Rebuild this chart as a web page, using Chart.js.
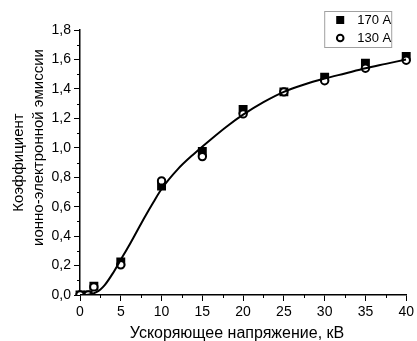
<!DOCTYPE html>
<html>
<head>
<meta charset="utf-8">
<script src="https://cdn.jsdelivr.net/npm/chart.js@4"></script>
<style>
  html, body { margin: 0; padding: 0; background: #fff; }
  #wrap { width: 417px; height: 341px; position: relative; }
</style>
</head>
<body>
<div id="wrap"><canvas id="chart"></canvas></div>
<script>
// measured points, kV -> coefficient
const voltage = [0, 1, 1.7, 5, 10, 15, 20, 25, 30, 35, 40];
const coef170 = [0, 0, 0.06, 0.225, 0.74, 0.975, 1.26, 1.38, 1.48, 1.575, 1.62];
const coef130 = [0, 0, 0.055, 0.205, 0.775, 0.94, 1.23, 1.38, 1.455, 1.54, 1.595];

// fitted curve
const fitX = [0, 1, 1.5, 2, 2.5, 3, 4, 5, 6, 7, 8, 9, 10, 12, 14, 16, 18, 20, 22.5, 25, 27.5, 30, 32.5, 35, 37.5, 40];
const fitY = [0, 0.002, 0.008, 0.02, 0.038, 0.065, 0.145, 0.24, 0.335, 0.435, 0.535, 0.63, 0.72, 0.855, 0.96, 1.055, 1.145, 1.225, 1.31, 1.38, 1.43, 1.47, 1.505, 1.54, 1.57, 1.60];

const seriesNames = ['170 A', '130 A'];
const yTitle = ['Коэффициент', 'ионно-электронной эмиссии'];
const xTitle = 'Ускоряющее напряжение, кВ';

const FONT = 'Liberation Sans, Arial, sans-serif';
const pts = (xs, ys) => xs.map((x, i) => ({ x: x, y: ys[i] }));

// minor ticks halfway between the major ones
const minorTicks = {
  id: 'minorTicks',
  afterDraw(chart) {
    const { ctx, scales: { x, y } } = chart;
    ctx.save();
    ctx.strokeStyle = '#000';
    ctx.lineWidth = 1;
    ctx.beginPath();
    for (let v = 2.5; v < 40; v += 5) {
      const px = Math.round(x.getPixelForValue(v)) + 0.5;
      ctx.moveTo(px, y.bottom);
      ctx.lineTo(px, y.bottom + 3);
    }
    for (let v = 0.1; v < 1.8; v += 0.2) {
      const py = Math.round(y.getPixelForValue(v)) + 0.5;
      ctx.moveTo(x.left, py);
      ctx.lineTo(x.left - 3, py);
    }
    ctx.stroke();
    ctx.restore();
  }
};

// axis titles: two rotated lines on the left, one line under the x axis
const axisTitles = {
  id: 'axisTitles',
  afterDraw(chart) {
    const { ctx, chartArea } = chart;
    const mid = (chartArea.top + chartArea.bottom) / 2;
    ctx.save();
    ctx.fillStyle = '#000';
    ctx.textAlign = 'center';
    ctx.font = '16px ' + FONT;
    ctx.fillText(xTitle, 237, chart.height - 3);
    ctx.font = '15px ' + FONT;
    ctx.textBaseline = 'middle';
    ctx.translate(19, mid);
    ctx.rotate(-Math.PI / 2);
    ctx.fillText(yTitle[0], 0, 0);
    ctx.fillText(yTitle[1], 15, 20);
    ctx.restore();
  }
};

// boxed legend in the upper right corner of the plot
const cornerLegend = {
  id: 'cornerLegend',
  afterDraw(chart) {
    const { ctx, chartArea } = chart;
    const bx = chartArea.right - 82, by = chartArea.top - 19;
    ctx.save();
    ctx.strokeStyle = '#a0a0a0';
    ctx.lineWidth = 1;
    ctx.strokeRect(bx + 0.5, by + 0.5, 67, 36);
    ctx.fillStyle = '#000';
    ctx.strokeStyle = '#000';
    ctx.fillRect(bx + 12, by + 5, 8, 8);
    ctx.lineWidth = 2;
    ctx.beginPath();
    ctx.arc(bx + 16, by + 27, 3.3, 0, Math.PI * 2);
    ctx.stroke();
    ctx.font = '13px ' + FONT;
    ctx.textBaseline = 'middle';
    ctx.fillText(seriesNames[0], bx + 33, by + 9);
    ctx.fillText(seriesNames[1], bx + 33, by + 27);
    ctx.restore();
  }
};

new Chart(document.getElementById('chart'), {
  type: 'scatter',
  data: {
    datasets: [{
      label: 'fit',
      data: pts(fitX, fitY),
      showLine: true,
      borderColor: '#000',
      borderWidth: 2,
      pointRadius: 0,
      cubicInterpolationMode: 'monotone',
      order: 0
    }, {
      label: seriesNames[1],
      data: pts(voltage, coef130),
      pointStyle: 'circle',
      pointRadius: 3.7,
      pointBorderWidth: 2,
      pointBorderColor: '#000',
      pointBackgroundColor: '#fff',
      clip: { left: 8, top: 8, right: 8, bottom: 0 },
      order: 1
    }, {
      label: seriesNames[0],
      data: pts(voltage, coef170),
      pointStyle: 'rect',
      pointRadius: 6.3,
      pointBorderWidth: 0,
      pointBackgroundColor: '#000',
      clip: { left: 8, top: 8, right: 8, bottom: 0 },
      order: 2
    }]
  },
  options: {
    responsive: true,
    maintainAspectRatio: false,
    animation: false,
    layout: { padding: { left: 0, right: 9, top: 30, bottom: 0 } },
    plugins: {
      legend: { display: false },
      tooltip: { enabled: false }
    },
    scales: {
      x: {
        min: 0,
        max: 40,
        afterFit: (s) => { s.height = 46; },
        border: { color: '#000', width: 1.5 },
        grid: { drawOnChartArea: false, color: '#000', tickLength: 6, lineWidth: 1 },
        ticks: { stepSize: 5, color: '#000', padding: 3, maxRotation: 0, font: { family: FONT, size: 14 } }
      },
      y: {
        min: 0,
        max: 1.8,
        afterFit: (s) => { s.width = 80; },
        border: { color: '#000', width: 1.5 },
        grid: { drawOnChartArea: false, color: '#000', tickLength: 6, lineWidth: 1 },
        ticks: {
          stepSize: 0.2,
          color: '#000',
          padding: 3,
          font: { family: FONT, size: 14 },
          callback: (v) => v.toFixed(1).replace('.', ',')
        }
      }
    }
  },
  plugins: [minorTicks, axisTitles, cornerLegend]
});
</script>
</body>
</html>
